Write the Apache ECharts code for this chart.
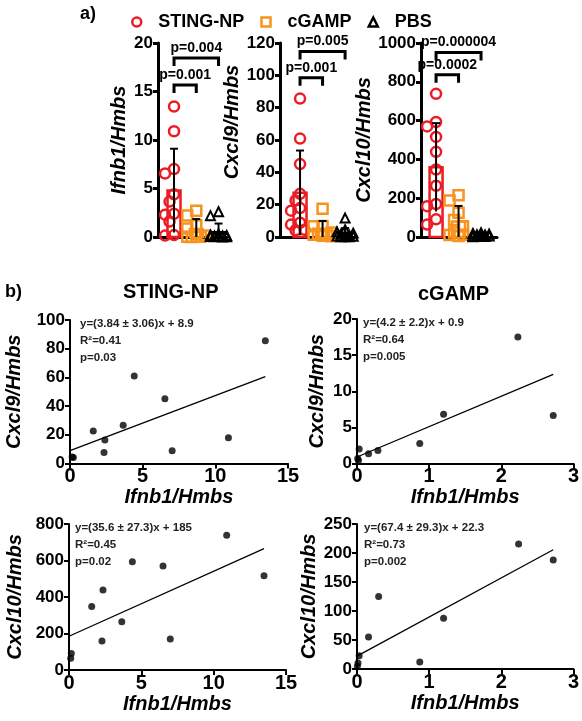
<!DOCTYPE html>
<html><head><meta charset="utf-8">
<script src="https://cdn.jsdelivr.net/npm/echarts@6/dist/echarts.min.js"></script>
<style>html,body{margin:0;padding:0;background:#fff}#c{width:582px;height:721px}</style>
</head><body><div id="c"></div>
<script>
// ---------- data ----------
const groups = ['STING-NP', 'cGAMP', 'PBS'];
// panel a: per-mouse values
const ifnb1_sting = [13.45, 10.9, 7.0, 6.55, 4.4, 3.65, 2.4, 2.3, 1.6, 0.2, 0.15];
const ifnb1_cgamp = [2.7, 2.22, 1.2, 0.87, 0.29, 0.16, 0.03, 0.02, 0.01];
const ifnb1_pbs   = [2.6, 2.2, 0.3, 0.2, 0.15, 0.1, 0.1, 0.05, 0.05, 0.03, 0.02, 0.01];
const cxcl9_sting = [85.6, 60.9, 45.1, 26.7, 22.6, 17.9, 16.3, 8.8, 7.7, 4.5, 4.2];
const cxcl9_cgamp = [17.5, 6.8, 6.65, 2.77, 2.0, 1.8, 1.34, 0.7, 0.4];
const cxcl9_pbs   = [11.7, 4.5, 3.2, 2.4, 1.8, 1.2, 0.9, 0.6, 0.4, 0.2, 0.1, 0.1];
const cxcl10_sting = [738, 593, 570, 516, 439, 348, 264, 170, 159, 91, 64];
const cxcl10_cgamp = [215.6, 188, 125, 87.7, 55, 23, 12, 10.3, 4.6];
const cxcl10_pbs   = [22, 18, 15, 12, 10, 8, 6, 5, 4, 3, 2, 1];
const pLabelsA = [['p=0.004', 'p=0.001'], ['p=0.005', 'p=0.001'], ['p=0.000004', 'p=0.0002']];
const yNamesA = ['Ifnb1/Hmbs', 'Cxcl9/Hmbs', 'Cxcl10/Hmbs'];
const yMaxA = [20, 120, 1000];
const yIntA = [5, 20, 200];

// panel b: correlations
const sting_ifnb1_c9  = [0.15, 0.23, 1.6, 2.4, 2.34, 3.66, 4.42, 6.53, 7.03, 10.9, 13.44];
const sting_cxcl9     = [4.5, 4.2, 22.6, 16.3, 7.7, 26.7, 60.9, 45.1, 8.8, 17.9, 85.6];
const cgamp_ifnb1_c9  = [0.01, 0.02, 0.03, 0.16, 0.29, 0.87, 1.2, 2.23, 2.72];
const cgamp_cxcl9     = [0.7, 0.4, 2.0, 1.34, 1.8, 2.77, 6.8, 17.5, 6.65];
const sting_ifnb1_c10 = [0.12, 0.16, 1.57, 2.35, 2.28, 3.65, 4.38, 6.5, 7.0, 10.9, 13.48];
const sting_cxcl10    = [64, 91, 348, 439, 159, 264, 593, 570, 170, 738, 516];
const cgamp_ifnb1_c10 = [0.005, 0.014, 0.03, 0.16, 0.3, 0.87, 1.2, 2.24, 2.72];
const cgamp_cxcl10    = [4.6, 10.3, 23, 55, 125, 12, 87.7, 215.6, 188];
const fitSlopes = [3.84, 4.2, 35.6, 67.4];
const fitIntercepts = [8.9, 0.9, 185, 22.3];
const fitTexts = [
  ['y=(3.84 \u00b1 3.06)x + 8.9', 'R\u00b2=0.41', 'p=0.03'],
  ['y=(4.2 \u00b1 2.2)x + 0.9', 'R\u00b2=0.64', 'p=0.005'],
  ['y=(35.6 \u00b1 27.3)x + 185', 'R\u00b2=0.45', 'p=0.02'],
  ['y=(67.4 \u00b1 29.3)x + 22.3', 'R\u00b2=0.73', 'p=0.002']
];
const yNamesB = ['Cxcl9/Hmbs', 'Cxcl9/Hmbs', 'Cxcl10/Hmbs', 'Cxcl10/Hmbs'];
const xNameB = 'Ifnb1/Hmbs';
const xMaxB = [15, 3, 15, 3];
const xIntB = [5, 1, 5, 1];
const yMaxB = [100, 20, 800, 250];
const yIntB = [20, 5, 200, 50];
const titlesB = ['STING-NP', 'cGAMP'];

// ---------- styling / layout ----------
const FONT = '"Liberation Sans", Arial, Helvetica, sans-serif';
const colors = ['#ec1c24', '#f7931e', '#000000'];
const symbols = ['circle', 'rect', 'triangle'];
const symSizes = [10, 10, 9];
const gridA = [
  {left: 158, top: 43, width: 69, height: 194, xmin: -0.72, xmax: 2.38, nameGap: 29, namePad: 0},
  {left: 280, top: 43, width: 75, height: 194, xmin: -0.89, xmax: 2.44, nameGap: 26, namePad: 36},
  {left: 421, top: 43, width: 76, height: 194, xmin: -0.67, xmax: 2.71, nameGap: 41, namePad: 0}
];
const bracketA = [[18.45, 15.67], [114.8, 98.5], [951, 836]];
const gridB = [
  {left: 70, top: 320, width: 218, height: 143.5, nameGap: 46, tx: 10},
  {left: 357, top: 319, width: 217, height: 144.5, nameGap: 30, tx: 6},
  {left: 69, top: 524, width: 217, height: 146, nameGap: 44, tx: 6},
  {left: 357, top: 524, width: 217, height: 145, nameGap: 32, tx: 7}
];

const dataA = [
  [ifnb1_sting, ifnb1_cgamp, ifnb1_pbs],
  [cxcl9_sting, cxcl9_cgamp, cxcl9_pbs],
  [cxcl10_sting, cxcl10_cgamp, cxcl10_pbs]
];
const dataB = [
  [sting_ifnb1_c9, sting_cxcl9],
  [cgamp_ifnb1_c9, cgamp_cxcl9],
  [sting_ifnb1_c10, sting_cxcl10],
  [cgamp_ifnb1_c10, cgamp_cxcl10]
];

function mean(a) { return a.reduce((s, v) => s + v, 0) / a.length; }
function sd(a) { const m = mean(a); return Math.sqrt(a.reduce((s, v) => s + (v - m) * (v - m), 0) / (a.length - 1)); }

// deterministic beeswarm spreading (pixel space)
function swarm(vals, pxPerY, pxPerX, diam) {
  const order = vals.map((v, i) => i).sort((a, b) => vals[b] - vals[a]);
  const placed = [];
  const off = new Array(vals.length).fill(0);
  const cands = [0, -1, 1, -2, 2].map(k => k * diam * 0.45);
  for (const i of order) {
    const y = vals[i] * pxPerY;
    let best = 0, bestD = -1;
    for (const c of cands) {
      let d = Infinity;
      for (const q of placed) d = Math.min(d, Math.hypot(q[0] - c, q[1] - y));
      if (d >= diam * 0.8) { best = c; bestD = d; break; }
      if (d > bestD) { bestD = d; best = c; }
    }
    placed.push([best, y]);
    off[i] = best / pxPerX;
  }
  return off;
}

const grids = [], xAxes = [], yAxes = [], series = [], graphics = [];

// ---------- panel a ----------
dataA.forEach((plot, k) => {
  const g = gridA[k];
  grids.push({left: g.left, top: g.top, width: g.width, height: g.height});
  xAxes.push({
    type: 'value', gridIndex: k, min: g.xmin, max: g.xmax,
    axisLine: {show: true, onZero: false, lineStyle: {color: '#000', width: 3}},
    axisTick: {show: false}, axisLabel: {show: false}, splitLine: {show: false}
  });
  yAxes.push({
    type: 'value', gridIndex: k, min: 0, max: yMaxA[k], interval: yIntA[k],
    name: yNamesA[k], nameLocation: 'middle', nameGap: g.nameGap,
    nameTextStyle: {fontFamily: FONT, fontSize: 20, fontWeight: 'bold', fontStyle: 'italic', color: '#000',
      padding: [0, 0, 0, g.namePad]},
    axisLine: {show: true, onZero: false, lineStyle: {color: '#000', width: 3}},
    axisTick: {show: true, length: 5, lineStyle: {color: '#000', width: 3}},
    axisLabel: {fontFamily: FONT, fontSize: 17, fontWeight: 'bold', color: '#000', margin: 5,
      formatter: v => String(v)},
    splitLine: {show: false}
  });
  const pxPerY = g.height / yMaxA[k];
  const pxPerX = g.width / (g.xmax - g.xmin);
  const stats = plot.map((vals, gi) => [gi, mean(vals), sd(vals)]);
  // bars (mean)
  series.push({
    type: 'custom', xAxisIndex: k, yAxisIndex: k, z: 1, silent: true,
    data: stats,
    renderItem: (params, api) => {
      const x = api.value(0), m = api.value(1);
      const p0 = api.coord([x, 0]), pm = api.coord([x, m]);
      const w = 13;
      return {type: 'rect', shape: {x: p0[0] - w / 2, y: pm[1], width: w, height: p0[1] - pm[1]},
        style: {fill: 'rgba(0,0,0,0)', stroke: colors[x], lineWidth: 2.5}};
    }
  });
  // points
  plot.forEach((vals, gi) => {
    const off = swarm(vals, pxPerY, pxPerX, symSizes[gi]);
    series.push({
      type: 'scatter', name: groups[gi], xAxisIndex: k, yAxisIndex: k, z: 2, silent: true,
      symbol: symbols[gi], symbolSize: symSizes[gi], clip: false,
      itemStyle: {color: 'rgba(0,0,0,0)', borderColor: colors[gi], borderWidth: gi === 2 ? 2 : 2.5, opacity: 1},
      data: vals.map((v, i) => [gi + off[i], v])
    });
  });
  // error bars (mean ± SD)
  series.push({
    type: 'custom', xAxisIndex: k, yAxisIndex: k, z: 3, silent: true,
    data: stats,
    renderItem: (params, api) => {
      const x = api.value(0), m = api.value(1), s = api.value(2);
      const lo = Math.max(0, m - s), hi = m + s;
      const pl = api.coord([x, lo]), ph = api.coord([x, hi]);
      const cw = 8;
      const ch = [
        {type: 'line', shape: {x1: pl[0], y1: pl[1], x2: ph[0], y2: ph[1]}, style: {stroke: '#000', lineWidth: 2}},
        {type: 'line', shape: {x1: ph[0] - cw / 2, y1: ph[1], x2: ph[0] + cw / 2, y2: ph[1]}, style: {stroke: '#000', lineWidth: 2}}
      ];
      return {type: 'group', children: ch};
    }
  });
  // significance brackets
  series.push({
    type: 'custom', xAxisIndex: k, yAxisIndex: k, z: 4, silent: true,
    data: [[0, 2, bracketA[k][0]], [0, 1, bracketA[k][1]]],
    renderItem: (params, api) => {
      const a = api.coord([api.value(0), api.value(2)]);
      const b = api.coord([api.value(1), api.value(2)]);
      const leg = 8;
      return {type: 'group', children: [
        {type: 'polyline', shape: {points: [[a[0], a[1] + leg], [a[0], a[1]], [b[0], b[1]], [b[0], b[1] + leg]]},
          style: {stroke: '#000', lineWidth: 3, fill: null}},
        {type: 'text', x: (a[0] + b[0]) / 2, y: a[1] - 3,
          style: {text: pLabelsA[k][params.dataIndex], font: 'bold 14px ' + FONT, fill: '#000',
            align: 'center', verticalAlign: 'bottom', textAlign: 'center', textVerticalAlign: 'bottom'}}
      ]};
    }
  });
});

// ---------- panel b ----------
dataB.forEach((pair, j) => {
  const k = 3 + j;
  const g = gridB[j];
  grids.push({left: g.left, top: g.top, width: g.width, height: g.height});
  xAxes.push({
    type: 'value', gridIndex: k, min: 0, max: xMaxB[j], interval: xIntB[j],
    name: xNameB, nameLocation: 'middle', nameGap: 24,
    nameTextStyle: {fontFamily: FONT, fontSize: 20, fontWeight: 'bold', fontStyle: 'italic', color: '#000'},
    axisLine: {show: true, onZero: false, lineStyle: {color: '#000', width: 2}},
    axisTick: {show: true, length: 5, lineStyle: {color: '#000', width: 2}},
    axisLabel: {fontFamily: FONT, fontSize: 20, fontWeight: 'bold', color: '#000', margin: 3},
    splitLine: {show: false}
  });
  yAxes.push({
    type: 'value', gridIndex: k, min: 0, max: yMaxB[j], interval: yIntB[j],
    name: yNamesB[j], nameLocation: 'middle', nameGap: g.nameGap,
    nameTextStyle: {fontFamily: FONT, fontSize: 20, fontWeight: 'bold', fontStyle: 'italic', color: '#000'},
    axisLine: {show: true, onZero: false, lineStyle: {color: '#000', width: 2}},
    axisTick: {show: true, length: 5, lineStyle: {color: '#000', width: 2}},
    axisLabel: {fontFamily: FONT, fontSize: 17, fontWeight: 'bold', color: '#000', margin: 5,
      formatter: v => String(v)},
    splitLine: {show: false}
  });
  const xs = pair[0], ys = pair[1];
  series.push({
    type: 'scatter', xAxisIndex: k, yAxisIndex: k, symbol: 'circle', symbolSize: 7, clip: false, silent: true,
    itemStyle: {color: '#000'}, data: xs.map((x, i) => [x, ys[i]])
  });
  const xmax = Math.max(...xs);
  series.push({
    type: 'line', xAxisIndex: k, yAxisIndex: k, symbol: 'none', silent: true,
    lineStyle: {color: '#000', width: 1.3},
    data: [[0, fitIntercepts[j]], [xmax, fitSlopes[j] * xmax + fitIntercepts[j]]]
  });
  fitTexts[j].forEach((t, li) => {
    graphics.push({type: 'text', left: g.left + g.tx, top: g.top - 2 + li * 17,
      style: {text: t, font: 'bold 11.5px ' + FONT, fill: '#222'}});
  });
});

graphics.push({type: 'text', left: 80, top: 5, style: {text: 'a)', font: 'bold 18px ' + FONT, fill: '#000'}});
graphics.push({type: 'text', left: 5, top: 283, style: {text: 'b)', font: 'bold 18px ' + FONT, fill: '#000'}});
graphics.push({type: 'text', left: 123, top: 282, style: {text: titlesB[0], font: 'bold 20px ' + FONT, fill: '#000'}});
graphics.push({type: 'text', left: 418, top: 284, style: {text: titlesB[1], font: 'bold 20px ' + FONT, fill: '#000'}});

const chart = echarts.init(document.getElementById('c'), null, {renderer: 'canvas'});
chart.setOption({
  animation: false,
  backgroundColor: '#fff',
  legend: {
    left: 126, top: 8, itemWidth: 9, itemHeight: 9, itemGap: 16, selectedMode: false,
    data: groups.map((gname, i) => ({name: gname, icon: symbols[i],
      itemStyle: {color: 'rgba(0,0,0,0)', borderColor: colors[i], borderWidth: 2.5}})),
    textStyle: {fontFamily: FONT, fontSize: 18, fontWeight: 'bold', color: '#000', padding: [0, 0, 0, 12]}
  },
  grid: grids, xAxis: xAxes, yAxis: yAxes, series: series, graphic: graphics
});
</script></body></html>
